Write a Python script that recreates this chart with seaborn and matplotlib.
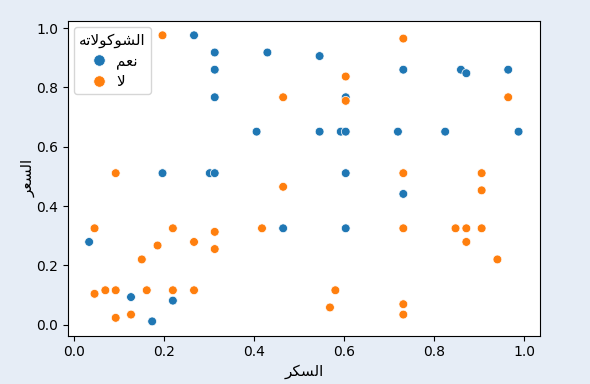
import numpy as np
import pandas as pd
import matplotlib
matplotlib.use('Agg')
import matplotlib.pyplot as plt
import seaborn as sns

plt.rcParams['font.family'] = ['DejaVu Sans']

# Arabic text is written in presentation forms, in visual order,
# because matplotlib does no Arabic shaping / bidi by itself.
X_LABEL = '\uFEAE\uFEDC\uFEB4\uFEDF\uFE8D'          # السكر
Y_LABEL = '\uFEAE\uFECC\uFEB4\uFEDF\uFE8D'          # السعر
HUE_TITLE = '\uFEEA\uFE97\uFEFB\uFEEE\uFEDB\uFEEE\uFEB8\uFEDF\uFE8D'  # الشوكولاته
YES = '\uFEE2\uFECC\uFEE7'                          # نعم
NO = '\uFEFB'                                       # لا

# ── data ──────────────────────────────────────────────────
sugar_yes = [0.267, 0.313, 0.313, 0.313, 0.197, 0.302, 0.313, 0.430, 0.546,
             0.604, 0.406, 0.546, 0.593, 0.604, 0.604, 0.732, 0.860, 0.872,
             0.965, 0.720, 0.825, 0.988, 0.732, 0.465, 0.604, 0.034, 0.127,
             0.220, 0.174]
price_yes = [0.976, 0.918, 0.860, 0.767, 0.511, 0.511, 0.511, 0.918, 0.906,
             0.767, 0.651, 0.651, 0.651, 0.651, 0.511, 0.860, 0.860, 0.848,
             0.860, 0.651, 0.651, 0.651, 0.441, 0.325, 0.325, 0.279, 0.093,
             0.081, 0.011]

sugar_no = [0.197, 0.093, 0.604, 0.465, 0.604, 0.732, 0.965, 0.732, 0.906,
            0.906, 0.732, 0.848, 0.872, 0.906, 0.872, 0.941, 0.732, 0.732,
            0.465, 0.418, 0.581, 0.569, 0.046, 0.220, 0.313, 0.267, 0.313,
            0.186, 0.151, 0.046, 0.070, 0.093, 0.162, 0.220, 0.267, 0.093,
            0.127]
price_no = [0.976, 0.511, 0.837, 0.767, 0.755, 0.965, 0.767, 0.511, 0.511,
            0.453, 0.325, 0.325, 0.325, 0.325, 0.279, 0.220, 0.069, 0.034,
            0.465, 0.325, 0.116, 0.058, 0.325, 0.325, 0.313, 0.279, 0.255,
            0.267, 0.220, 0.104, 0.116, 0.116, 0.116, 0.116, 0.116, 0.023,
            0.034]

df = pd.DataFrame({
    X_LABEL: sugar_yes + sugar_no,
    Y_LABEL: price_yes + price_no,
    HUE_TITLE: [YES] * len(sugar_yes) + [NO] * len(sugar_no),
})

# ── figure ───────────────────────────────────────────────
fig = plt.figure(figsize=(5.9, 3.84), dpi=100, facecolor='#e6edf6')
ax = fig.add_axes([0.1147, 0.1258, 0.8006, 0.8195])

sns.scatterplot(data=df, x=X_LABEL, y=Y_LABEL, hue=HUE_TITLE,
                hue_order=[YES, NO], s=40, ax=ax)

ax.set_xticks([0.0, 0.2, 0.4, 0.6, 0.8, 1.0])
ax.set_yticks([0.0, 0.2, 0.4, 0.6, 0.8, 1.0])
ax.set_xlabel(X_LABEL, fontsize=11, labelpad=3)
ax.set_ylabel(Y_LABEL, fontsize=11, labelpad=0)
ax.legend(title=HUE_TITLE, loc='upper left', fontsize=11, title_fontsize=11,
          markerscale=1.3, handletextpad=0.3, handlelength=1.6,
          labelspacing=0.35, borderaxespad=0.4, borderpad=0.35)

plt.savefig('out.png', dpi=100, facecolor=fig.get_facecolor())
plt.close()
